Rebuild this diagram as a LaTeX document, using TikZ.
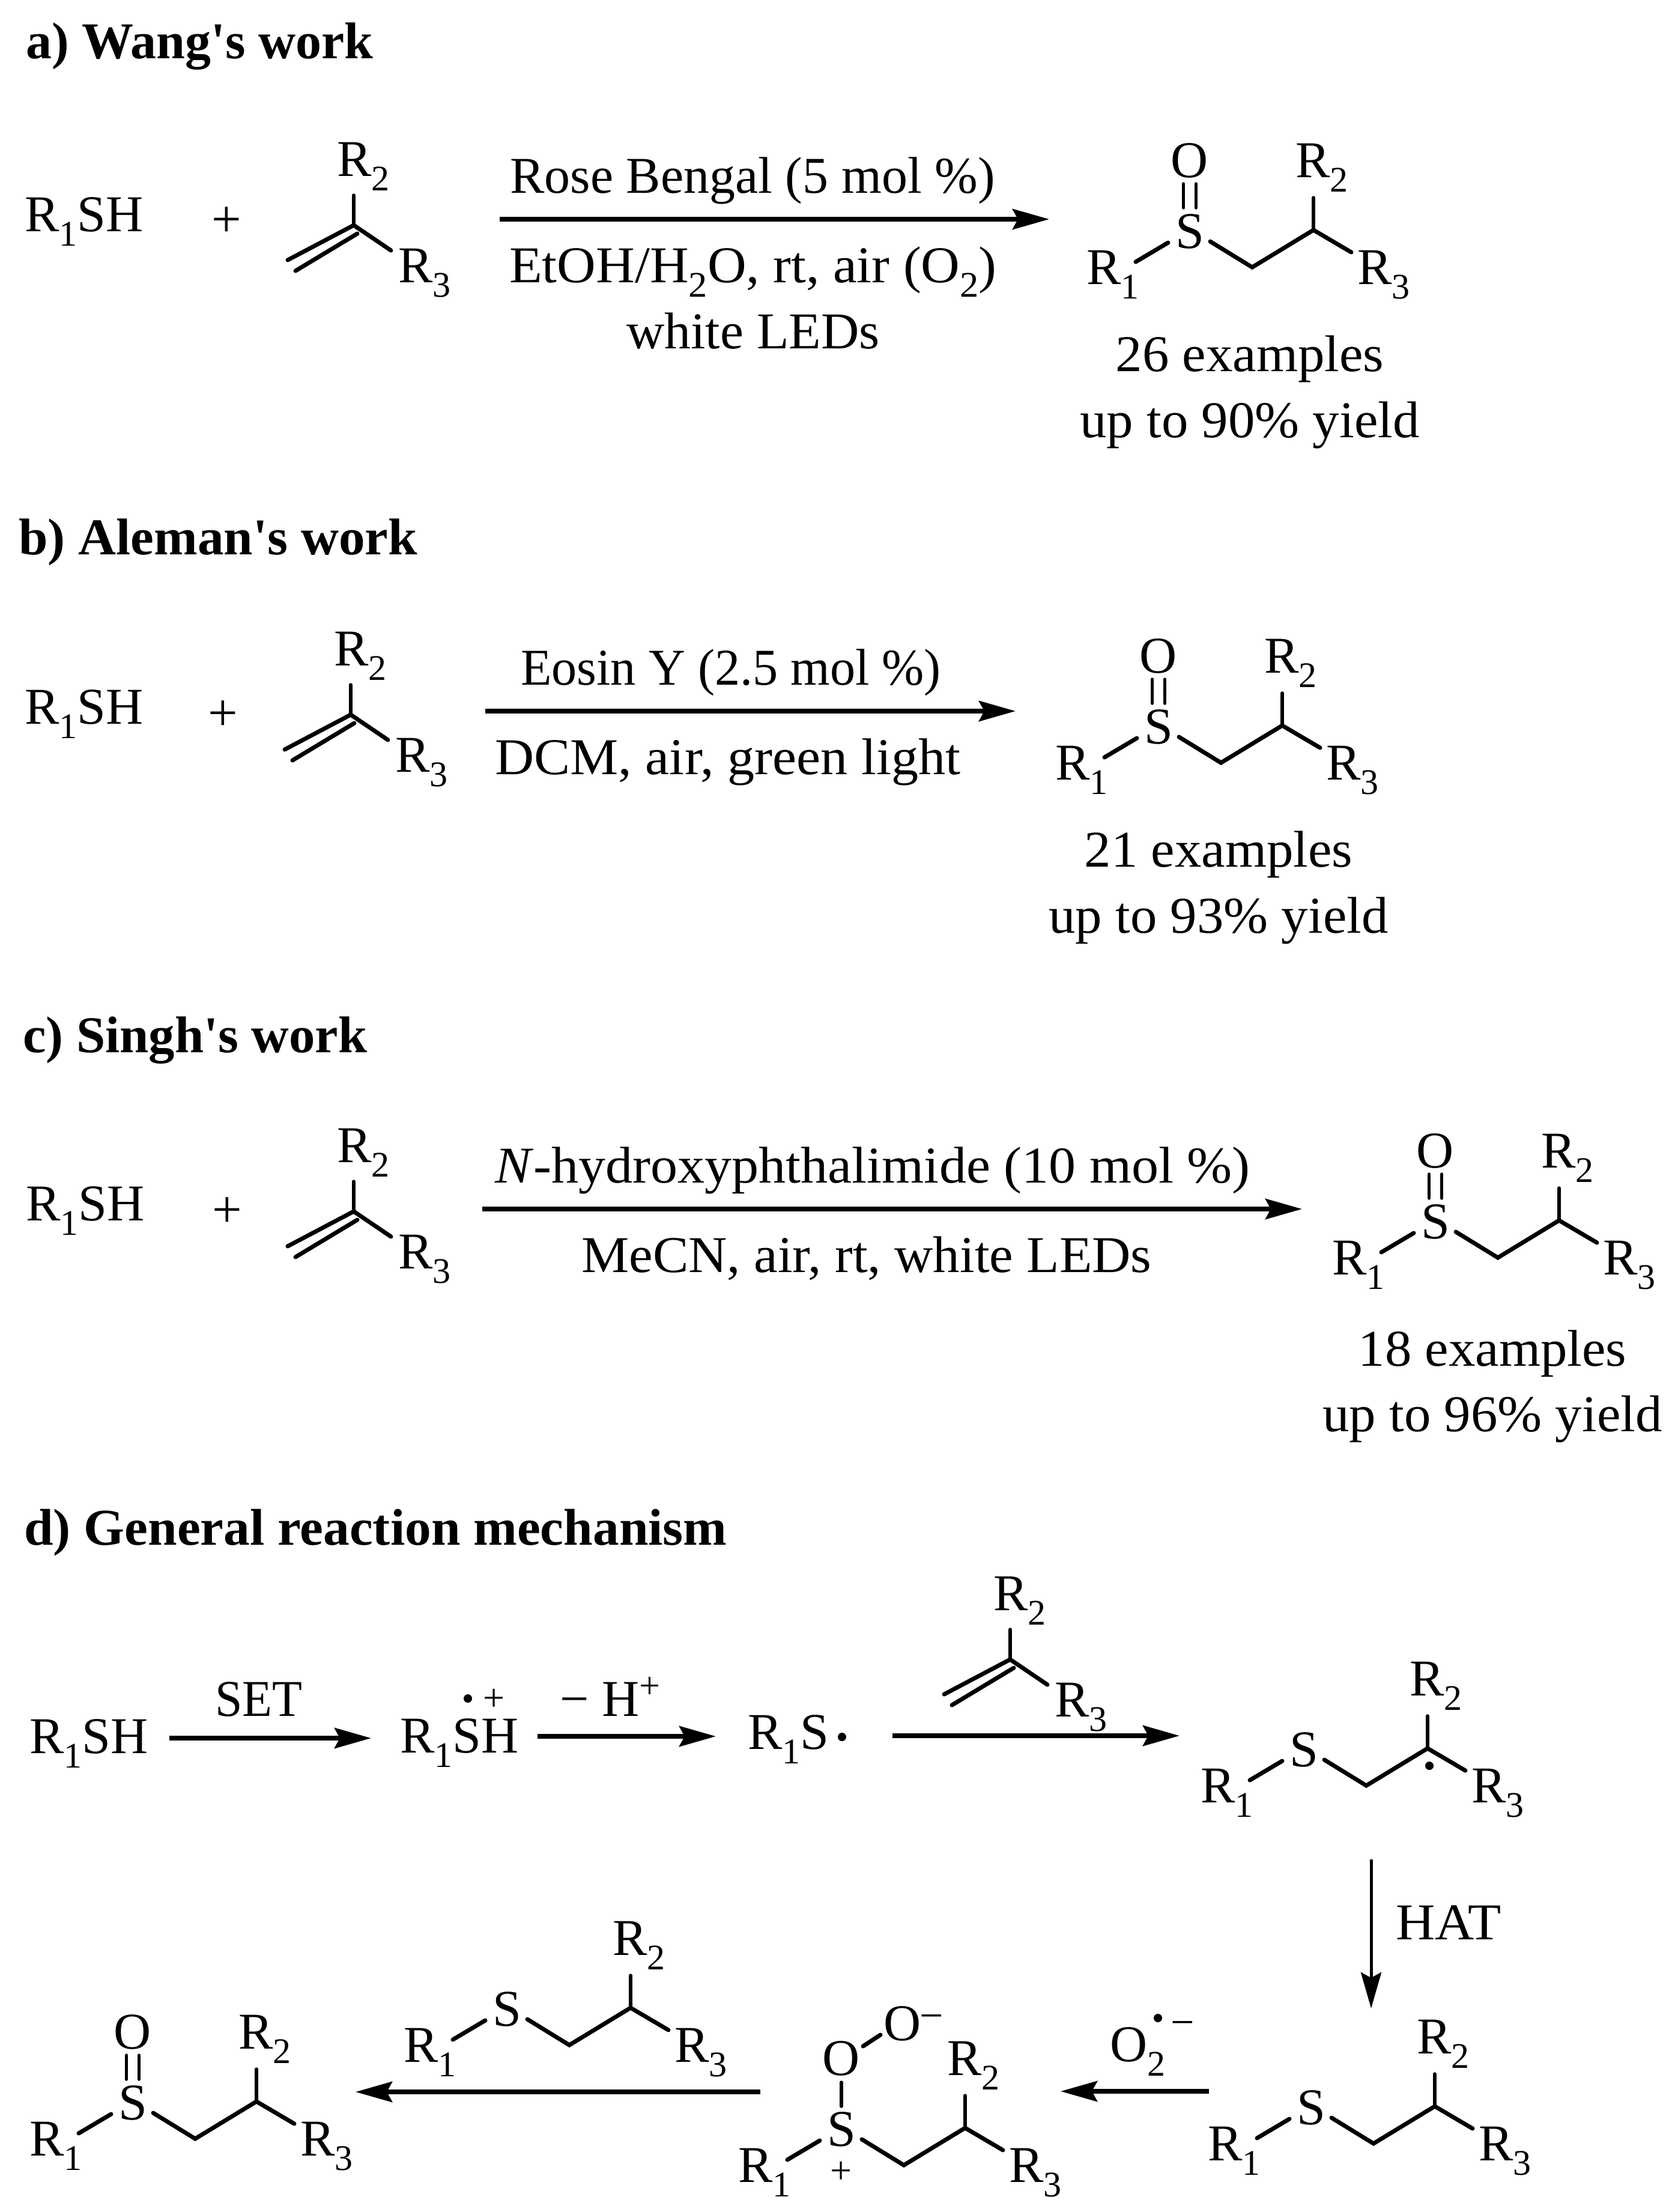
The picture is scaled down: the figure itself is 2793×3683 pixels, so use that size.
\documentclass[tikz,border=0pt]{standalone}
\usepackage{fontspec}
\setmainfont{Liberation Serif}
\newfontfamily\headfont{Liberation Serif}
\usetikzlibrary{arrows.meta}
\newcommand{\csub}[1]{\raisebox{-24pt}{\fontsize{60}{60}\selectfont #1}}
\newcommand{\Rn}[1]{R\csub{#1}}
\newcommand{\hs}[2]{\scalebox{#1}[1]{#2}}
\tikzset{
  txt/.style={font=\fontsize{86}{100}\selectfont,inner sep=0pt,anchor=base},
  txtw/.style={txt,anchor=base west},
  head/.style={font=\fontsize{86}{100}\headfont\bfseries,inner sep=0pt,anchor=base west},
  smallp/.style={font=\fontsize{64}{64}\selectfont,inner sep=0pt,anchor=center},
  smallm/.style={font=\fontsize{70}{70}\selectfont,inner sep=0pt,anchor=center},
  pluss/.style={font=\fontsize{88}{88}\selectfont,inner sep=0pt,anchor=center},
  bond/.style={line width=7pt,line cap=round,line join=miter},
  thinbond/.style={line width=5.5pt,line cap=round},
  rxn/.style={line width=7.5pt,-{Stealth[length=61pt,width=34pt,inset=9pt]}},
  rxnv/.style={line width=5pt,-{Stealth[length=60pt,width=34pt,inset=9pt]}},
  radical/.style={circle,fill=black,inner sep=0pt,minimum size=14pt},
  thioether/.pic={
    \node[txt] (-S) at (0,27) {S};
    \node[txtw] (-Ra) at (-172,87) {\Rn{1}};
    \node[txtw] (-Rb) at (176,-91) {\Rn{2}};
    \node[txtw] (-Rc) at (279,87) {\Rn{3}};
    \coordinate (-a1) at (-90,50);
    \coordinate (-a2) at (-36,18);
    \coordinate (-b1) at (34,16);
    \coordinate (-b2) at (104,59);
    \coordinate (-b3) at (206,-3);
    \coordinate (-b4) at (269,34);
    \coordinate (-b5) at (206,-57);
    \draw[bond] (-a1) -- (-a2);
    \draw[bond] (-b1) -- (-b2) -- (-b3) -- (-b4);
    \draw[thinbond] (-b3) -- (-b5);
  },
  oxo/.pic={
    \node[txt] (-O) at (0,-91) {O};
    \coordinate (-l1) at (-10.5,-80);
    \coordinate (-l2) at (-10.5,-40);
    \coordinate (-r1) at (10.5,-80);
    \coordinate (-r2) at (10.5,-40);
    \draw[thinbond] (-l1) -- (-l2);
    \draw[thinbond] (-r1) -- (-r2);
  },
  alkene/.pic={
    \node[txtw] (-Rb) at (-28,-82) {\Rn{2}};
    \node[txtw] (-Rc) at (74,95) {\Rn{3}};
    \coordinate (-c) at (0,0);
    \coordinate (-t) at (0,-50);
    \coordinate (-e) at (62,42);
    \coordinate (-d1) at (-110,58);
    \coordinate (-c2) at (6,14);
    \coordinate (-d2) at (-97,76);
    \draw[thinbond] (-c) -- (-t);
    \draw[bond] (-c) -- (-e);
    \draw[bond] (-c) -- (-d1);
    \draw[bond] (-c2) -- (-d2);
  }
}
\begin{document}
\begin{tikzpicture}[x=1pt,y=-1pt]
\fill[white] (0,0) rectangle (2793,3683);
\useasboundingbox (0,0) rectangle (2793,3683);

% ---- headers
\node[head] (ha) at (43,97) {a) Wang's work};
\node[head] (hb) at (31,923) {\hs{1.014}{b) Aleman's work}};
\node[head] (hc) at (38,1752) {\hs{1.008}{c) Singh's work}};
\node[head] (hd) at (40,2572) {\hs{1.016}{d) General reaction mechanism}};

% ---- panel a
\node[txtw] (a1) at (41,385) {\Rn{1}SH};
\node[pluss] (ap) at (377,370) {+};
\pic (aa) at (589,375) {alkene};
\coordinate (as) at (832,365);
\coordinate (ae) at (1747,365);
\draw[rxn] (as) -- (ae);
\node[txt] (at1) at (1253,321) {Rose Bengal (5 mol \%)};
\node[txt] (at2) at (1254,470) {\hs{1.042}{EtOH/H\csub{2}O, rt, air (O\csub{2})}};
\node[txt] (at3) at (1254,580) {\hs{1.02}{white LEDs}};
\pic (ap1) at (1981,386) {thioether};
\pic (ap2) at (1981,386) {oxo};
\node[txt] (ay1) at (2081,618) {\hs{1.033}{26 examples}};
\node[txt] (ay2) at (2081,728) {\hs{1.033}{up to 90\% yield}};

% ---- panel b
\node[txtw] (b1) at (41,1205) {\Rn{1}SH};
\node[pluss] (bp) at (371,1192) {+};
\pic (ba) at (584,1190) {alkene};
\coordinate (bs) at (808,1184);
\coordinate (be) at (1691,1184);
\draw[rxn] (bs) -- (be);
\node[txt] (bt1) at (1217,1140) {\hs{0.98}{Eosin Y (2.5 mol \%)}};
\node[txt] (bt2) at (1212,1289) {\hs{1.048}{DCM, air, green light}};
\pic (bp1) at (1929,1211) {thioether};
\pic (bp2) at (1929,1211) {oxo};
\node[txt] (by1) at (2029,1443) {\hs{1.033}{21 examples}};
\node[txt] (by2) at (2029,1553) {\hs{1.033}{up to 93\% yield}};

% ---- panel c
\node[txtw] (c1) at (43,2032) {\Rn{1}SH};
\node[pluss] (cp) at (378,2019) {+};
\pic (ca) at (589,2017) {alkene};
\coordinate (cs) at (803,2013);
\coordinate (ce) at (2168,2013);
\draw[rxn] (cs) -- (ce);
\node[txt] (ct1) at (1453,1969) {\hs{1.047}{\emph{N}-hydroxyphthalimide (10 mol \%)}};
\node[txt] (ct2) at (1443,2118) {\hs{1.036}{MeCN, air, rt, white LEDs}};
\pic (cp1) at (2390,2035) {thioether};
\pic (cp2) at (2390,2035) {oxo};
\node[txt] (cy1) at (2485,2274) {\hs{1.033}{18 examples}};
\node[txt] (cy2) at (2485,2383) {\hs{1.033}{up to 96\% yield}};

% ---- panel d, top row
\node[txtw] (d1) at (49,2919) {\Rn{1}SH};
\coordinate (ds1) at (282,2894);
\coordinate (de1) at (618,2894);
\draw[rxn] (ds1) -- (de1);
\node[txt] (dset) at (431,2857) {\hs{0.95}{SET}};
\node[txtw] (d2) at (666,2918) {\Rn{1}SH};
\node[radical] (d2r) at (779,2828) {};
\node[smallp] (d2p) at (823,2830) {+};
\coordinate (ds2) at (895,2891);
\coordinate (de2) at (1192,2891);
\draw[rxn] (ds2) -- (de2);
\node[txtw] (dh) at (932,2857) {−\hspace{22pt}H\raisebox{30pt}{\fontsize{62}{62}\selectfont +}};
\node[txtw] (d3) at (1245,2912) {\Rn{1}S};
\node[radical] (d3r) at (1402,2892) {};
\pic (da) at (1682,2763) {alkene};
\coordinate (ds3) at (1486,2890);
\coordinate (de3) at (1964,2890);
\draw[rxn] (ds3) -- (de3);
\pic (dt) at (2171,2914) {thioether};
\node[radical] (dtr) at (2380,2940) {};

% ---- HAT
\coordinate (ds4) at (2283,3096);
\coordinate (de4) at (2283,3344);
\draw[rxnv] (ds4) -- (de4);
\node[txtw] (dhat) at (2324,3229) {\hs{1.05}{HAT}};

% ---- panel d, bottom row
\pic (eq) at (2183,3510) {thioether};
\coordinate (ds5) at (2013,3482);
\coordinate (de5) at (1766,3482);
\draw[rxn] (ds5) -- (de5);
\node[txtw] (eo2) at (1848,3432) {O\csub{2}};
\node[radical] (eo2r) at (1928,3360) {};
\node[smallm] (eo2m) at (1969,3378) {−};

\pic (f) at (1401,3546) {thioether};
\node[txt] (fo1) at (1401,3455) {O};
\node[txt] (fo2) at (1503,3397) {O};
\node[smallm] (fm) at (1551,3367) {−};
\node[smallp] (fp) at (1401,3617) {+};
\coordinate (fa1) at (1401,3467);
\coordinate (fa2) at (1401,3507);
\coordinate (fb1) at (1437,3407);
\coordinate (fb2) at (1466,3388);
\draw[thinbond] (fa1) -- (fa2);
\draw[bond] (fb1) -- (fb2);

\coordinate (ds6) at (1266,3483);
\coordinate (de6) at (592,3483);
\draw[rxn] (ds6) -- (de6);
\pic (g) at (844,3346) {thioether};
\pic (h1) at (221,3502) {thioether};
\pic (h2) at (221,3502) {oxo};
\end{tikzpicture}
\end{document}
